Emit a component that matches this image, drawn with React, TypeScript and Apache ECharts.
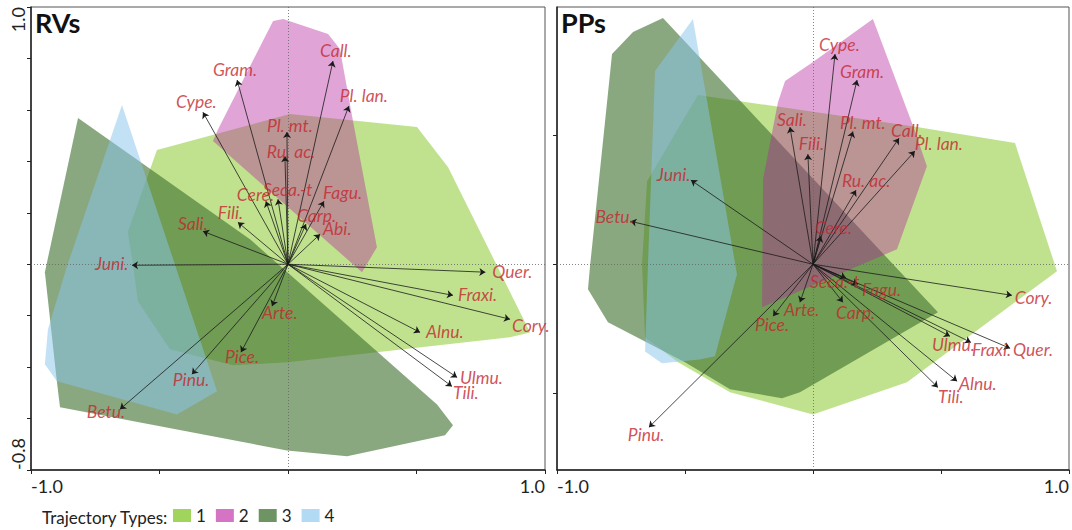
import React, { useEffect, useRef } from "react";
import * as echarts from "echarts";

// ---------- DATA ----------
const panelTitles = ["RVs", "PPs"];
const trajectoryTypes = ["1", "2", "3", "4"];
const legendTitle = "Trajectory Types:";
const xTickLabels = ["-1.0", "1.0"];
const yTickLabels = ["1.0", "-0.8"];

// RVs panel: variable arrow tips
const rvNames = ["Gram.", "Cype.", "Call.", "Pl. lan.", "Pl. mt.", "Ru. ac.", "Cere.", "Seca.-t", "Fagu.", "Carp.", "Abi.", "Fili.", "Sali.", "Juni.", "Quer.", "Fraxi.", "Cory.", "Alnu.", "Ulmu.", "Tili.", "Arte.", "Pice.", "Pinu.", "Betu."];
const rvX = [-0.198, -0.331, 0.175, 0.237, -0.004, -0.012, -0.086, -0.039, 0.14, 0.07, 0.125, -0.195, -0.331, -0.607, 0.768, 0.642, 0.864, 0.514, 0.658, 0.638, -0.062, -0.183, -0.374, -0.654];
const rvY = [0.716, 0.591, 0.79, 0.615, 0.514, 0.42, 0.245, 0.253, 0.245, 0.156, 0.117, 0.163, 0.128, -0.004, -0.031, -0.121, -0.214, -0.265, -0.44, -0.475, -0.163, -0.342, -0.428, -0.564];

// PPs panel: variable arrow tips
const ppNames = ["Cype.", "Gram.", "Sali.", "Fili.", "Pl. mt.", "Call.", "Pl. lan.", "Ru. ac.", "Cere.", "Juni.", "Betu.", "Seca.-t", "Fagu.", "Carp.", "Arte.", "Pice.", "Pinu.", "Cory.", "Ulmu.", "Fraxi.", "Quer.", "Alnu.", "Tili."];
const ppX = [0.086, 0.172, -0.09, -0.02, 0.156, 0.336, 0.398, 0.168, 0.031, -0.477, -0.713, 0.129, 0.176, 0.117, -0.051, -0.156, -0.641, 0.777, 0.535, 0.617, 0.77, 0.563, 0.488];
const ppY = [0.817, 0.716, 0.533, 0.428, 0.516, 0.49, 0.44, 0.288, 0.109, 0.327, 0.167, -0.054, -0.078, -0.148, -0.148, -0.202, -0.634, -0.121, -0.28, -0.304, -0.327, -0.455, -0.479];

// Convex hulls of the trajectory types (RVs)
const rvHull1 = [[-0.51, 0.444], [0.008, 0.584], [0.502, 0.533], [0.623, 0.377], [0.942, -0.265], [0.864, -0.284], [0.0, -0.381], [-0.214, -0.393], [-0.459, -0.331], [-0.584, -0.144], [-0.603, 0.0], [-0.623, 0.125]];
const rvHull2 = [[-0.058, 0.946], [-0.019, 0.953], [0.156, 0.895], [0.202, 0.837], [0.253, 0.556], [0.346, 0.066], [0.288, -0.031], [-0.292, 0.479], [-0.272, 0.525]];
const rvHull3 = [[-0.817, 0.568], [-0.148, 0.097], [0.58, -0.545], [0.642, -0.626], [0.611, -0.665], [0.23, -0.747], [-0.004, -0.724], [-0.887, -0.556], [-0.899, -0.459], [-0.946, -0.031]];
const rvHull4 = [[-0.646, 0.619], [-0.276, -0.494], [-0.432, -0.584], [-0.899, -0.455], [-0.946, -0.389], [-0.934, -0.253], [-0.86, -0.008]];

// Convex hulls of the trajectory types (PPs)
const ppHull1 = [[-0.449, 0.658], [0.406, 0.533], [0.789, 0.471], [0.953, -0.027], [0.367, -0.459], [0.0, -0.584], [-0.324, -0.498], [-0.527, -0.381], [-0.656, -0.284], [-0.668, 0.0], [-0.648, 0.323]];
const ppHull2 = [[0.234, 0.953], [0.391, 0.537], [0.445, 0.381], [0.328, 0.058], [-0.199, -0.167], [-0.195, 0.331], [-0.137, 0.63], [-0.109, 0.712], [0.0, 0.786]];
const ppHull3 = [[-0.586, 0.957], [0.488, -0.187], [-0.051, -0.498], [-0.121, -0.521], [-0.324, -0.486], [-0.5, -0.381], [-0.801, -0.226], [-0.879, -0.097], [-0.871, -0.008], [-0.785, 0.817], [-0.703, 0.903]];
const ppHull4 = [[-0.469, 0.953], [-0.297, -0.039], [-0.383, -0.358], [-0.441, -0.37], [-0.59, -0.385], [-0.656, -0.339], [-0.645, -0.008], [-0.617, 0.751]];

// ---------- LAYOUT / STYLE ----------
const rvLabelDx = [-24, -27, -13, -9, -20, -18, -29, -15, -1, -9, 3, -20, -25, -37, 7, 5, 2, 6, 3, 1, -10, -16, -19, -33];
const rvLabelDy = [-11, -11, -10, -10, -6, -5, -7, -10, -9, -9, -6, -10, -8, -2, -1, -1, 6, -1, 0, 6, 6, 4, 5, 2];
const ppLabelDx = [-16, -17, -13, -9, -13, -8, 0, -14, -6, -34, -35, -36, 4, -7, -16, -18, -21, 3, -18, 1, 3, 2, 0];
const ppLabelDy = [-10, -9, -8, -11, -9, -8, -7, -10, -9, -6, -5, 3, 5, 10, 7, 8, 7, 2, 8, 7, 1, 2, 9];

const FONT = "Lato, 'Open Sans', 'Liberation Sans', sans-serif";
const LABEL_RED = "#c4262e";
const AXIS_DARK = "#222";
// drawing order: type 1, 3, 2, 4
const hullFill: Record<string, string> = {
  "1": "rgba(158,211,81,0.65)",
  "2": "rgba(181,41,157,0.42)",
  "3": "rgba(60,110,43,0.6)",
  "4": "rgba(135,195,235,0.5)",
};
const legendColors = ["#a0d45c", "#d574c4", "#6f9464", "#b3daf5"];

const GRIDS = [
  { left: 31, top: 7, width: 514, height: 463 },
  { left: 557, top: 7, width: 512, height: 463 },
];

function hullSeries(name: string, pts: number[][], gi: number) {
  return {
    type: "custom",
    name,
    xAxisIndex: gi,
    yAxisIndex: gi,
    silent: true,
    z: 1,
    data: [[0, 0]],
    itemStyle: { color: hullFill[name] },
    renderItem: (_params: any, api: any) => ({
      type: "polygon",
      shape: { points: pts.map((p) => api.coord(p)) },
      style: { fill: hullFill[name], stroke: "none" },
    }),
  };
}

function panelSeries(gi: number, names: string[], xs: number[], ys: number[], dx: number[], dy: number[], hulls: number[][][]) {
  const order = [0, 2, 1, 3]; // types 1,3,2,4
  const s: any[] = order.map((k) => hullSeries(trajectoryTypes[k], hulls[k], gi));
  s.push({
    type: "lines",
    coordinateSystem: "cartesian2d",
    xAxisIndex: gi,
    yAxisIndex: gi,
    silent: true,
    z: 3,
    symbol: ["none", "none"],
    lineStyle: { color: "#666", width: 0.8, type: [1, 2], opacity: 1 },
    data: [
      { coords: [[-1, 0], [1, 0]] },
      { coords: [[0, -0.8], [0, 1]] },
    ],
  });
  s.push({
    type: "lines",
    coordinateSystem: "cartesian2d",
    xAxisIndex: gi,
    yAxisIndex: gi,
    silent: true,
    z: 4,
    symbol: ["none", "arrow"],
    symbolSize: 6,
    lineStyle: { color: "#1a1a1a", width: 0.8, opacity: 1 },
    data: names.map((_n, i) => ({ coords: [[0, 0], [xs[i], ys[i]]] })),
  });
  s.push({
    type: "scatter",
    xAxisIndex: gi,
    yAxisIndex: gi,
    silent: true,
    z: 5,
    symbolSize: 0.1,
    itemStyle: { color: "transparent" },
    data: names.map((n, i) => ({
      name: n,
      value: [xs[i], ys[i]],
      label: {
        show: true,
        position: [dx[i], dy[i]],
        align: "left",
        verticalAlign: "middle",
        formatter: n,
        color: LABEL_RED,
        fontStyle: "italic",
        fontSize: 17.5,
        fontFamily: FONT,
      },
    })),
  });
  return s;
}

function axisPair(gi: number, yInterval: number | null) {
  const line = { onZero: false, lineStyle: { color: AXIS_DARK, width: 1.5 } };
  const tick = { show: true, inside: false, length: 4, lineStyle: { color: AXIS_DARK, width: 1 } };
  const x = {
    type: "value",
    gridIndex: gi,
    min: -1,
    max: 1,
    interval: 0.5,
    axisLine: line,
    axisTick: tick,
    axisLabel: { show: false },
    splitLine: { show: false },
  };
  const y: any = {
    type: "value",
    gridIndex: gi,
    min: -0.8,
    max: 1,
    axisLine: line,
    axisTick: yInterval ? tick : { ...tick, customValues: [-0.5, 0, 0.5] },
    axisLabel: { show: false },
    splitLine: { show: false },
  };
  if (yInterval) y.interval = yInterval;
  else y.splitNumber = 4;
  return { x, y };
}

export default function App() {
  const ref = useRef<HTMLDivElement>(null);
  useEffect(() => {
    if (!ref.current) return;
    const chart = echarts.init(ref.current, null, { renderer: "svg" });
    const a0 = axisPair(0, 0.2);
    const a1 = axisPair(1, null);
    const option: any = {
      animation: false,
      backgroundColor: "#fff",
      grid: GRIDS.map((g) => ({ ...g, show: true, borderColor: "#555", borderWidth: 1, backgroundColor: "transparent" })),
      xAxis: [a0.x, a1.x],
      yAxis: [a0.y, a1.y],
      legend: {
        left: 173,
        top: 507,
        padding: 0,
        itemWidth: 18,
        itemHeight: 13,
        itemGap: 10,
        icon: "rect",
        selectedMode: false,
        textStyle: { fontSize: 17, color: AXIS_DARK, fontFamily: FONT },
        data: trajectoryTypes.map((t, i) => ({ name: t, itemStyle: { color: legendColors[i], opacity: 1, borderWidth: 0 } })),
      },
      series: [
        ...panelSeries(0, rvNames, rvX, rvY, rvLabelDx, rvLabelDy, [rvHull1, rvHull2, rvHull3, rvHull4]),
        ...panelSeries(1, ppNames, ppX, ppY, ppLabelDx, ppLabelDy, [ppHull1, ppHull2, ppHull3, ppHull4]),
      ],
    };
    chart.setOption(option);

    const graphics: any[] = [];
    const tickFont = { fontSize: 18, fontFamily: FONT, fill: AXIS_DARK };
    [0, 1].forEach((gi) => {
      const bl = chart.convertToPixel({ gridIndex: gi }, [-1, -0.8]) as number[];
      const tr = chart.convertToPixel({ gridIndex: gi }, [1, 1]) as number[];
      graphics.push({
        type: "text",
        x: bl[0] + 4,
        y: tr[1] + 15,
        style: { text: panelTitles[gi], fontSize: 27, fontWeight: "bold", fontFamily: FONT, fill: "#111", align: "left", verticalAlign: "middle", textAlign: "left", textVerticalAlign: "middle" },
      });
      graphics.push({
        type: "text",
        x: bl[0],
        y: bl[1] + 16,
        style: { ...tickFont, text: xTickLabels[0], align: "left", verticalAlign: "middle", textAlign: "left", textVerticalAlign: "middle" },
      });
      graphics.push({
        type: "text",
        x: tr[0],
        y: bl[1] + 16,
        style: { ...tickFont, text: xTickLabels[1], align: "right", verticalAlign: "middle", textAlign: "right", textVerticalAlign: "middle" },
      });
      if (gi === 0) {
        graphics.push({
          type: "text",
          x: bl[0] - 13,
          y: tr[1],
          rotation: Math.PI / 2,
          style: { ...tickFont, text: yTickLabels[0], align: "right", verticalAlign: "middle", textAlign: "right", textVerticalAlign: "middle" },
        });
        graphics.push({
          type: "text",
          x: bl[0] - 13,
          y: bl[1],
          rotation: Math.PI / 2,
          style: { ...tickFont, text: yTickLabels[1], align: "left", verticalAlign: "middle", textAlign: "left", textVerticalAlign: "middle" },
        });
      }
    });
    graphics.push({
      type: "text",
      x: 42,
      y: 517,
      style: { text: legendTitle, fontSize: 17, fontFamily: FONT, fill: AXIS_DARK, align: "left", verticalAlign: "middle", textAlign: "left", textVerticalAlign: "middle" },
    });
    chart.setOption({ graphic: graphics });

    return () => chart.dispose();
  }, []);
  return <div ref={ref} style={{ position: "absolute", left: 0, top: 0, width: 1072, height: 530 }} />;
}
